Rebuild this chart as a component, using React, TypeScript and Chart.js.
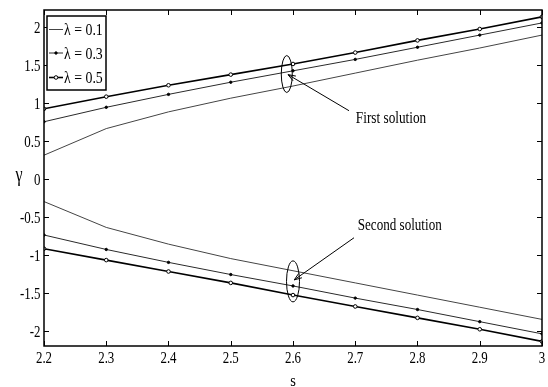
import React, { useEffect, useRef } from "react";
import { Chart, registerables } from "chart.js";

Chart.register(...registerables);

const sValues = [2.2, 2.3, 2.4, 2.5, 2.6, 2.7, 2.8, 2.9, 3.0];
const xTickValues = [2.2, 2.3, 2.4, 2.5, 2.6, 2.7, 2.8, 2.9, 3.0];
const xTickLabels = ["2.2", "2.3", "2.4", "2.5", "2.6", "2.7", "2.8", "2.9", "3"];
const yTickValues = [-2, -1.5, -1, -0.5, 0, 0.5, 1, 1.5, 2];
const yTickLabels = ["-2", "-1.5", "-1", "-0.5", "0", "0.5", "1", "1.5", "2"];
const lambdaLabels = ["λ = 0.1", "λ = 0.3", "λ = 0.5"];

const firstL01 = [0.31, 0.66, 0.88, 1.06, 1.22, 1.39, 1.56, 1.72, 1.89];
const firstL03 = [0.75, 0.94, 1.11, 1.27, 1.42, 1.57, 1.73, 1.89, 2.05];
const firstL05 = [0.92, 1.08, 1.23, 1.37, 1.51, 1.66, 1.82, 1.97, 2.13];
const secondL01 = [-0.3, -0.64, -0.86, -1.05, -1.21, -1.37, -1.53, -1.69, -1.85];
const secondL03 = [-0.74, -0.93, -1.1, -1.26, -1.41, -1.57, -1.72, -1.88, -2.04];
const secondL05 = [-0.92, -1.07, -1.22, -1.37, -1.53, -1.68, -1.83, -1.98, -2.14];

const annotationTexts = ["First solution", "Second solution"];
const xTitle = "s";
const yTitle = "γ";

const SERIF = '"Liberation Serif", "Times New Roman", serif';

const styles = [
  { color: "#444", width: 1, radius: 0, fill: "#444" },
  { color: "#2a2a2a", width: 1, radius: 1.2, fill: "#000" },
  { color: "#000", width: 1.6, radius: 1.8, fill: "#fff" },
];

const toPts = (ys: number[]) => sValues.map((x, i) => ({ x, y: ys[i] }));

function drawText(
  ctx: CanvasRenderingContext2D,
  text: string,
  x: number,
  y: number,
  size: number,
  sx: number,
  align: CanvasTextAlign,
  baseline: CanvasTextBaseline
) {
  ctx.save();
  ctx.translate(x, y);
  ctx.scale(sx, 1);
  ctx.font = `${size}px ${SERIF}`;
  ctx.textAlign = align;
  ctx.textBaseline = baseline;
  ctx.fillStyle = "#000";
  ctx.fillText(text, 0, 0);
  ctx.restore();
}

const framePlugin = {
  id: "frameAndAnnotations",
  afterDraw(chart: any) {
    const { ctx, chartArea: a, scales } = chart;
    const xs = scales.x;
    const ys = scales.y;
    ctx.save();
    // frame
    ctx.strokeStyle = "#000";
    ctx.lineWidth = 1.5;
    ctx.strokeRect(a.left, a.top, a.right - a.left, a.bottom - a.top);
    // ticks inside
    ctx.lineWidth = 1;
    const tl = 5;
    ctx.beginPath();
    xTickValues.forEach((v) => {
      const px = Math.round(xs.getPixelForValue(v)) + 0.5;
      ctx.moveTo(px, a.bottom);
      ctx.lineTo(px, a.bottom - tl);
      ctx.moveTo(px, a.top);
      ctx.lineTo(px, a.top + tl);
    });
    yTickValues.forEach((v) => {
      const py = Math.round(ys.getPixelForValue(v)) + 0.5;
      ctx.moveTo(a.left, py);
      ctx.lineTo(a.left + tl, py);
      ctx.moveTo(a.right, py);
      ctx.lineTo(a.right - tl, py);
    });
    ctx.stroke();

    // tick labels
    xTickValues.forEach((v, i) => {
      drawText(ctx, xTickLabels[i], xs.getPixelForValue(v), 363, 17, 0.76, "center", "alphabetic");
    });
    yTickValues.forEach((v, i) => {
      drawText(ctx, yTickLabels[i], 40.5, ys.getPixelForValue(v) + 5.8, 17, 0.76, "right", "alphabetic");
    });

    // legend
    const lx = 47, ly = 16, lw = 59, lh = 74;
    ctx.fillStyle = "#fff";
    ctx.fillRect(lx, ly, lw, lh);
    ctx.strokeStyle = "#000";
    ctx.lineWidth = 1.5;
    ctx.strokeRect(lx, ly, lw, lh);
    const rows = [29.5, 53, 77.5];
    lambdaLabels.forEach((lab, i) => {
      const st = styles[i];
      const y = rows[i];
      ctx.strokeStyle = st.color;
      ctx.lineWidth = st.width;
      ctx.beginPath();
      ctx.moveTo(49, y);
      ctx.lineTo(63, y);
      ctx.stroke();
      if (st.radius > 0) {
        ctx.beginPath();
        ctx.arc(56, y, st.radius, 0, Math.PI * 2);
        ctx.fillStyle = st.fill;
        ctx.fill();
        ctx.lineWidth = 1;
        ctx.strokeStyle = "#000";
        ctx.stroke();
      }
      drawText(ctx, lab, 64, y + 5.5, 16.5, 0.84, "left", "alphabetic");
    });

    // axis titles
    drawText(ctx, yTitle, 19, 181, 20, 0.8, "center", "alphabetic");
    drawText(ctx, xTitle, (a.left + a.right) / 2, 386, 17, 0.85, "center", "alphabetic");

    // annotations
    const ann = [
      { cx: 2.59, cy: 1.378, rx: 5.5, ry: 18.5, tx: 2.69, ty: 0.895, hx: 2.592, hy: 1.37, lx: 2.701, ly: 0.735, sx: 0.78, text: annotationTexts[0] },
      { cx: 2.6, cy: -1.35, rx: 6.5, ry: 20.5, tx: 2.698, ty: -0.776, hx: 2.602, hy: -1.33, lx: 2.704, ly: -0.675, sx: 0.77, text: annotationTexts[1] },
    ];
    ctx.strokeStyle = "#000";
    ctx.lineWidth = 1;
    ann.forEach((n) => {
      const cx = xs.getPixelForValue(n.cx);
      const cy = ys.getPixelForValue(n.cy);
      ctx.beginPath();
      ctx.ellipse(cx, cy, n.rx, n.ry, 0, 0, Math.PI * 2);
      ctx.stroke();
      const x1 = xs.getPixelForValue(n.tx);
      const y1 = ys.getPixelForValue(n.ty);
      const x2 = xs.getPixelForValue(n.hx);
      const y2 = ys.getPixelForValue(n.hy);
      ctx.beginPath();
      ctx.moveTo(x1, y1);
      ctx.lineTo(x2, y2);
      ctx.stroke();
      const ang = Math.atan2(y2 - y1, x2 - x1);
      const hl = 8;
      ctx.beginPath();
      ctx.moveTo(x2 - hl * Math.cos(ang - 0.35), y2 - hl * Math.sin(ang - 0.35));
      ctx.lineTo(x2, y2);
      ctx.lineTo(x2 - hl * Math.cos(ang + 0.35), y2 - hl * Math.sin(ang + 0.35));
      ctx.stroke();
      drawText(ctx, n.text, xs.getPixelForValue(n.lx), ys.getPixelForValue(n.ly), 17, n.sx, "left", "alphabetic");
    });
    ctx.restore();
  },
};

export default function App() {
  const ref = useRef<HTMLCanvasElement | null>(null);
  useEffect(() => {
    if (!ref.current) return;
    const series = [
      [firstL01, secondL01],
      [firstL03, secondL03],
      [firstL05, secondL05],
    ];
    const datasets: any[] = [];
    series.forEach((pair, i) => {
      const st = styles[i];
      pair.forEach((ys) => {
        datasets.push({
          label: lambdaLabels[i],
          data: toPts(ys),
          borderColor: st.color,
          borderWidth: st.width,
          pointRadius: st.radius,
          pointBackgroundColor: st.fill,
          pointBorderColor: "#000",
          pointBorderWidth: 1,
          fill: false,
          tension: 0,
        });
      });
    });
    const chart = new Chart(ref.current, {
      type: "line",
      data: { datasets },
      options: {
        animation: false,
        responsive: false,
        maintainAspectRatio: false,
        devicePixelRatio: 1,
        layout: { padding: { top: 10, right: 6, bottom: 0, left: 0 } },
        plugins: { legend: { display: false }, tooltip: { enabled: false } },
        scales: {
          x: {
            type: "linear",
            min: 2.2,
            max: 3.0,
            grid: { display: false, drawTicks: false },
            border: { display: false },
            afterBuildTicks: (axis: any) => {
              axis.ticks = xTickValues.map((v) => ({ value: v }));
            },
            afterFit: (axis: any) => {
              axis.height = 41;
            },
            ticks: { display: false },
          },
          y: {
            type: "linear",
            min: -2.2,
            max: 2.22,
            grid: { display: false, drawTicks: false },
            border: { display: false },
            afterBuildTicks: (axis: any) => {
              axis.ticks = yTickValues.map((v) => ({ value: v }));
            },
            afterFit: (axis: any) => {
              axis.width = 44;
            },
            ticks: { display: false },
          },
        },
      },
      plugins: [framePlugin],
    });
    return () => chart.destroy();
  }, []);
  return (
    <div style={{ position: "fixed", left: 0, top: 0, width: 548, height: 387, background: "#fff" }}>
      <canvas ref={ref} width={548} height={387} style={{ width: 548, height: 387, display: "block" }} />
    </div>
  );
}
